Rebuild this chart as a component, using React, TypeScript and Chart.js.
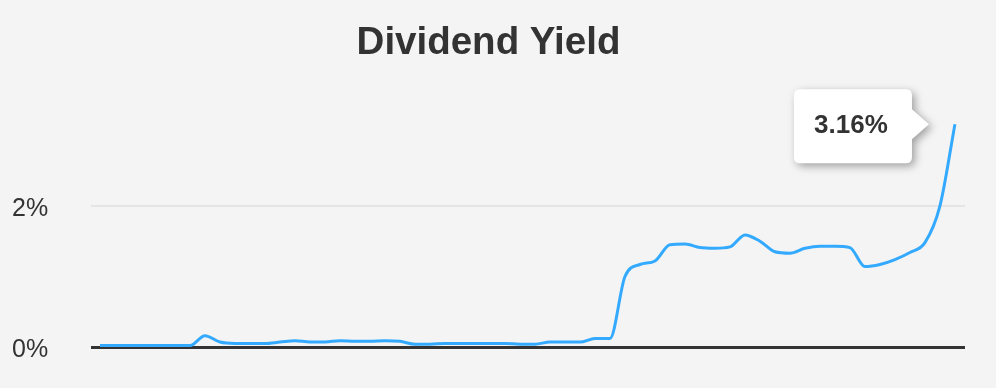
import React, { useEffect, useRef } from "react";
import { Chart, registerables } from "chart.js";

Chart.register(...registerables);

const chartTitle = "Dividend Yield";
const yTickValues = [0, 2];
const periods = Array.from({ length: 58 }, (_, i) => i);
const yieldValues = [
  0.02, 0.02, 0.02, 0.02, 0.02, 0.02, 0.02, 0.16, 0.07, 0.05,
  0.05, 0.05, 0.07, 0.09, 0.07, 0.07, 0.09, 0.08, 0.08, 0.09,
  0.08, 0.04, 0.04, 0.05, 0.05, 0.05, 0.05, 0.05, 0.04, 0.04,
  0.07, 0.07, 0.07, 0.12, 0.12, 1.0, 1.17, 1.22, 1.45, 1.46,
  1.41, 1.40, 1.42, 1.59, 1.50, 1.35, 1.33, 1.40, 1.43, 1.43,
  1.41, 1.14, 1.17, 1.24, 1.34, 1.48, 2.0, 3.16,
];

const FONT = "'Liberation Sans', Arial, Helvetica, sans-serif";

const calloutPlugin = {
  id: "lastValueCallout",
  afterDatasetsDraw(chart: any) {
    const meta = chart.getDatasetMeta(0);
    const pts = meta.data;
    if (!pts || !pts.length) return;
    const last = pts[pts.length - 1];
    const px = last.x;
    const py = last.y;
    const ctx = chart.ctx;
    const right = px - 43;
    const width = 118;
    const left = right - width;
    const top = py - 35;
    const height = 74;
    const bottom = top + height;
    const r = 6;
    const tipX = px - 26;
    const half = 15;
    ctx.save();
    ctx.beginPath();
    ctx.moveTo(left + r, top);
    ctx.lineTo(right - r, top);
    ctx.quadraticCurveTo(right, top, right, top + r);
    ctx.lineTo(right, py - half);
    ctx.lineTo(tipX, py);
    ctx.lineTo(right, py + half);
    ctx.lineTo(right, bottom - r);
    ctx.quadraticCurveTo(right, bottom, right - r, bottom);
    ctx.lineTo(left + r, bottom);
    ctx.quadraticCurveTo(left, bottom, left, bottom - r);
    ctx.lineTo(left, top + r);
    ctx.quadraticCurveTo(left, top, left + r, top);
    ctx.closePath();
    ctx.shadowColor = "rgba(0,0,0,0.35)";
    ctx.shadowBlur = 8;
    ctx.shadowOffsetX = 3;
    ctx.shadowOffsetY = 3;
    ctx.fillStyle = "#ffffff";
    ctx.fill();
    ctx.shadowColor = "transparent";
    ctx.fillStyle = "#333333";
    ctx.font = `bold 26px ${FONT}`;
    ctx.textAlign = "center";
    ctx.textBaseline = "middle";
    const v = yieldValues[yieldValues.length - 1];
    ctx.fillText(v.toFixed(2) + "%", left + width / 2 - 2, py + 2);
    ctx.restore();
  },
};

export default function App() {
  const ref = useRef<HTMLCanvasElement | null>(null);
  useEffect(() => {
    if (!ref.current) return;
    const chart = new Chart(ref.current, {
      type: "line",
      data: {
        datasets: [
          {
            data: periods.map((p, i) => ({ x: p, y: yieldValues[i] })),
            borderColor: "#33aaff",
            borderWidth: 3,
            pointRadius: 0,
            fill: false,
            cubicInterpolationMode: "monotone",
          },
        ],
      },
      options: {
        responsive: false,
        animation: false,
        layout: { padding: { left: 12, right: 31, top: 0, bottom: 41 } },
        plugins: {
          legend: { display: false },
          tooltip: { enabled: false },
          title: {
            display: true,
            text: chartTitle,
            color: "#333333",
            font: { family: FONT, size: 38.5, weight: "bold" },
            padding: { top: 20, bottom: 34 },
          },
        },
        scales: {
          x: {
            type: "linear",
            display: false,
            min: -0.6,
            max: 57.67,
          },
          y: {
            min: 0,
            max: 3.5,
            afterBuildTicks(axis: any) {
              axis.ticks = yTickValues.map((v) => ({ value: v }));
            },
            afterFit(axis: any) {
              axis.width = 79;
            },
            border: { display: false },
            grid: {
              drawTicks: false,
              color: (c: any) => (c.tick && c.tick.value === 0 ? "#333333" : "#e4e4e4"),
              lineWidth: (c: any) => (c.tick && c.tick.value === 0 ? 3 : 2),
            },
            ticks: {
              crossAlign: "far",
              labelOffset: 3,
              color: "#333333",
              font: { family: FONT, size: 25 },
              callback: (v: any) => v + "%",
            },
          },
        },
      },
      plugins: [calloutPlugin],
    } as any);
    return () => chart.destroy();
  }, []);
  return (
    <div
      style={{
        position: "absolute",
        left: 0,
        top: 0,
        width: 996,
        height: 388,
        background: "#f4f4f4",
      }}
    >
      <canvas ref={ref} width={996} height={388} />
    </div>
  );
}
